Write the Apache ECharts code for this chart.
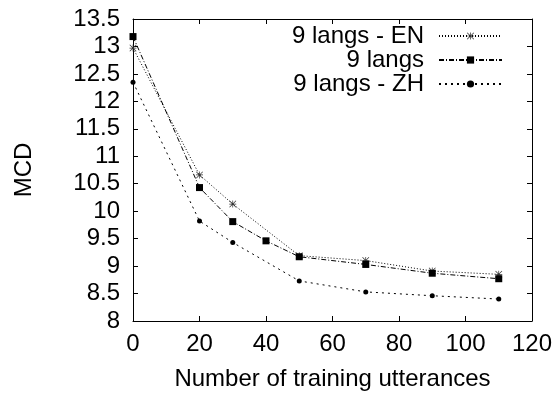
<!DOCTYPE html>
<html>
<head>
<meta charset="utf-8">
<script src="https://cdn.jsdelivr.net/npm/echarts@6/dist/echarts.min.js"></script>
<style>
  html, body { margin: 0; padding: 0; background: #fff; }
  #container { width: 556px; height: 393px; }
</style>
</head>
<body>
<div id="container"></div>
<script>
// number of training utterances per series
var xEN = [0, 20, 30, 50, 70, 90, 110];
var yEN = [12.97, 10.66, 10.13, 9.19, 9.10, 8.91, 8.85];
var xAll = [0, 20, 30, 40, 50, 70, 90, 110];
var yAll = [13.18, 10.43, 9.81, 9.46, 9.17, 9.03, 8.87, 8.77];
var xZH = [0, 20, 30, 50, 70, 90, 110];
var yZH = [12.35, 9.82, 9.43, 8.73, 8.53, 8.46, 8.40];
var names = ['9 langs - EN', '9 langs', '9 langs - ZH'];

var FONT = 'Liberation Sans';
// asterisk marker (gnuplot style *)
var star = 'path://M4.5 0h1v10h-1z M0 4.5h10v1h-10z M0.7 0L10 9.3L9.3 10L0 0.7z M9.3 0L10 0.7L0.7 10L0 9.3z';

function pairs(xs, ys) {
    return xs.map(function (x, i) { return [x, ys[i]]; });
}

var frameAxis = {
    axisLine: { show: true, onZero: false, lineStyle: { color: '#000', width: 1 } },
    axisTick: { show: true, inside: true, length: 5, lineStyle: { color: '#000' } },
    splitLine: { show: false }
};

var myChart = echarts.init(document.getElementById('container'));
var option = {
    animation: false,
    backgroundColor: '#fff',
    textStyle: { fontFamily: FONT },
    grid: { left: 133, right: 24, top: 19, bottom: 72, containLabel: false, outerBoundsMode: 'none' },
    legend: {
        data: names,
        orient: 'vertical',
        align: 'right',
        right: 53,
        top: 24,
        padding: 0,
        itemGap: 0,
        itemWidth: 63,
        itemHeight: 9,
        formatter: function (n) { return '{t|' + n + '}'; },
        textStyle: {
            color: '#000', fontSize: 24, fontFamily: FONT,
            rich: { t: { fontSize: 24, fontFamily: FONT, color: '#000', padding: [0, 10, 0, 0] } }
        }
    },
    xAxis: [
        Object.assign({
            type: 'value', position: 'bottom', min: 0, max: 120, interval: 20,
            name: 'Number of training utterances', nameLocation: 'middle', nameGap: 46,
            nameTextStyle: { color: '#000', fontSize: 24, fontFamily: FONT },
            axisLabel: { color: '#000', fontSize: 24, fontFamily: FONT, margin: 11 }
        }, frameAxis),
        Object.assign({
            type: 'value', position: 'top', min: 0, max: 120, interval: 20,
            axisLabel: { show: false }
        }, frameAxis)
    ],
    yAxis: [
        Object.assign({
            type: 'value', position: 'left', min: 8, max: 13.5, interval: 0.5,
            name: 'MCD', nameLocation: 'middle', nameGap: 97, nameRotate: 90,
            nameTextStyle: { color: '#000', fontSize: 24, fontFamily: FONT },
            axisLabel: { color: '#000', fontSize: 24, fontFamily: FONT, margin: 13 }
        }, frameAxis),
        Object.assign({
            type: 'value', position: 'right', min: 8, max: 13.5, interval: 0.5,
            axisLabel: { show: false }
        }, frameAxis)
    ],
    series: [
        {
            name: names[0], type: 'line', xAxisIndex: 0, yAxisIndex: 0,
            data: pairs(xEN, yEN),
            showAllSymbol: true,
            symbol: star, symbolSize: 7,
            lineStyle: { color: '#000', width: 1, type: [1, 2] },
            itemStyle: { color: '#333' },
            z: 3
        },
        {
            name: names[1], type: 'line', xAxisIndex: 0, yAxisIndex: 0,
            data: pairs(xAll, yAll),
            showAllSymbol: true,
            symbol: 'rect', symbolSize: 7,
            lineStyle: { color: '#000', width: 1, type: [5, 2, 1, 2] },
            itemStyle: { color: '#000' },
            z: 4
        },
        {
            name: names[2], type: 'line', xAxisIndex: 0, yAxisIndex: 0,
            data: pairs(xZH, yZH),
            showAllSymbol: true,
            symbol: 'circle', symbolSize: 5,
            lineStyle: { color: '#000', width: 1, type: [2, 4] },
            itemStyle: { color: '#000' },
            z: 2
        }
    ]
};
myChart.setOption(option);
</script>
</body>
</html>
